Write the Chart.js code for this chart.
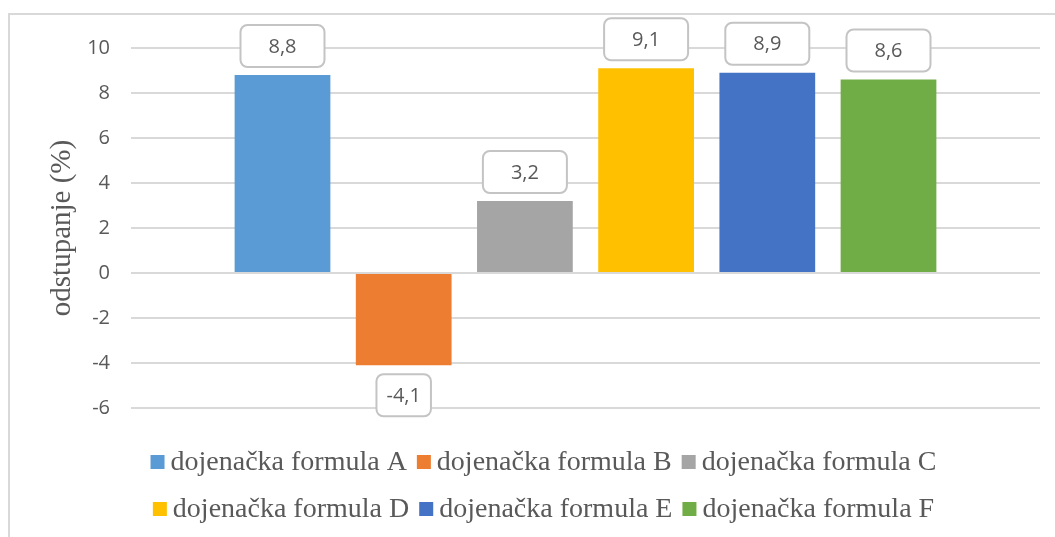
<!DOCTYPE html>
<html>
<head>
<meta charset="utf-8">
<script src="https://cdn.jsdelivr.net/npm/chart.js@4"></script>
<style>
  body { margin: 0; background: #fff; overflow: hidden; }
  #frame {
    position: absolute; left: 8px; top: 13px;
    width: 1100px; height: 600px;
    border-left: 2px solid #d9d9d9; border-top: 2px solid #d9d9d9;
  }
  #wrap { position: absolute; left: 0; top: 0; width: 1045px; height: 522px; }
</style>
</head>
<body>
<div id="frame"><div id="wrap"><canvas id="chart"></canvas></div></div>
<script>
var series = ["dojenačka formula A", "dojenačka formula B", "dojenačka formula C",
              "dojenačka formula D", "dojenačka formula E", "dojenačka formula F"];
var values = [8.8, -4.1, 3.2, 9.1, 8.9, 8.6];
var colors = ["#5B9BD5", "#ED7D31", "#A5A5A5", "#FFC000", "#4472C4", "#70AD47"];
var yTitle = "odstupanje (%)";

var grey = "#595959";

// rounded callout boxes with the values (decimal comma)
var valueBoxes = {
    id: 'valueBoxes',
    afterDatasetsDraw: function (chart) {
        var ctx = chart.ctx;
        ctx.save();
        ctx.font = '20px "Open Sans"';
        ctx.textAlign = 'center';
        ctx.textBaseline = 'middle';
        chart.data.datasets.forEach(function (ds, i) {
            var bar = chart.getDatasetMeta(i).data[0];
            var v = ds.data[0];
            var txt = v.toString().replace('.', ',');
            var tw = ctx.measureText(txt).width;
            var w = v >= 0 ? Math.max(tw + 26, 84) : tw + 20;
            var h = 42;
            var top = v >= 0 ? bar.y - 8 - h : bar.y + 9;
            var left = bar.x - w / 2;
            ctx.beginPath();
            ctx.roundRect(left, top, w, h, 7);
            ctx.fillStyle = '#fff';
            ctx.fill();
            ctx.lineWidth = 2;
            ctx.strokeStyle = '#c4c4c4';
            ctx.stroke();
            ctx.fillStyle = grey;
            ctx.fillText(txt, bar.x, top + h / 2 + 1);
        });
        ctx.restore();
    }
};

// legend in two rows of three, like the original
var twoRowLegend = {
    id: 'twoRowLegend',
    afterDraw: function (chart) {
        var ctx = chart.ctx;
        var rows = [[0, 1, 2], [3, 4, 5]];
        var rowY = [447, 494];
        var box = 14, gap = 6, itemGap = 10;
        ctx.save();
        ctx.font = '28px "Liberation Serif"';
        ctx.textBaseline = 'middle';
        rows.forEach(function (row, r) {
            var total = 0;
            row.forEach(function (k, j) {
                total += box + gap + ctx.measureText(chart.data.datasets[k].label).width;
                if (j > 0) total += itemGap;
            });
            var x = chart.width / 2 + 11 - total / 2;
            row.forEach(function (k) {
                var ds = chart.data.datasets[k];
                ctx.fillStyle = ds.backgroundColor;
                ctx.fillRect(x, rowY[r] - box / 2, box, box);
                x += box + gap;
                ctx.fillStyle = grey;
                ctx.fillText(ds.label, x, rowY[r] + 1);
                x += ctx.measureText(ds.label).width + itemGap;
            });
        });
        ctx.restore();
    }
};

var datasets = series.map(function (name, i) {
    return {
        label: name,
        data: [values[i]],
        backgroundColor: colors[i],
        categoryPercentage: 0.8,
        barPercentage: 0.79
    };
});

new Chart(document.getElementById('chart').getContext('2d'), {
    type: 'bar',
    data: { labels: [''], datasets: datasets },
    options: {
        responsive: true,
        maintainAspectRatio: false,
        animation: false,
        layout: { padding: { top: 28, right: 15, bottom: 129, left: 0 } },
        plugins: {
            legend: { display: false },
            tooltip: { enabled: false }
        },
        scales: {
            x: { display: false },
            y: {
                min: -6,
                max: 10,
                afterFit: function (scale) { scale.width = 121; },
                ticks: {
                    stepSize: 2,
                    padding: 21,
                    color: grey,
                    font: { family: '"Open Sans"', size: 20 }
                },
                grid: { color: '#d9d9d9', lineWidth: 2, drawTicks: false },
                border: { display: false },
                title: {
                    display: true,
                    text: yTitle,
                    color: grey,
                    padding: { top: 35, bottom: 0 },
                    font: { family: '"Liberation Serif"', size: 29 }
                }
            }
        }
    },
    plugins: [valueBoxes, twoRowLegend]
});
</script>
</body>
</html>
